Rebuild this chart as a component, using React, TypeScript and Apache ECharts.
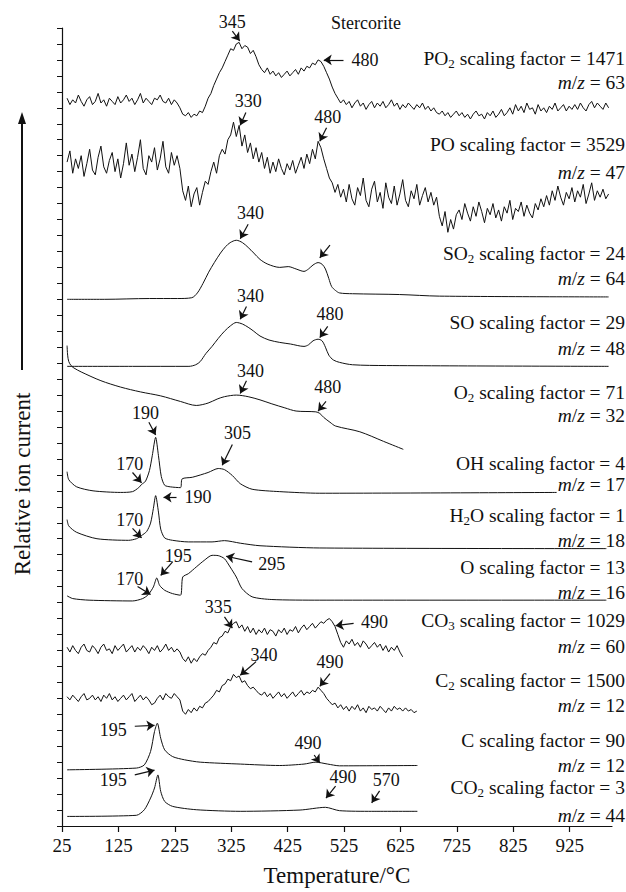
import React, { useEffect, useRef } from 'react';
import * as echarts from 'echarts';

const FONT = '"Liberation Serif", "Times New Roman", Times, serif';
const INK = '#111111';

// Temperature grid (°C) of the noisy traces
const T_NOISY = [
  34, 39, 44, 49, 54, 59, 64, 69, 74, 79,
  84, 89, 94, 99, 104, 109, 114, 119, 124, 129,
  134, 139, 144, 149, 154, 159, 164, 169, 174, 179,
  184, 189, 194, 199, 204, 209, 214, 219, 224, 229,
  234, 239, 244, 249, 254, 259, 264, 269, 274, 279,
  284, 289, 294, 299, 304, 309, 314, 319, 324, 329,
  334, 339, 344, 349, 354, 359, 364, 369, 374, 379,
  384, 389, 394, 399, 404, 409, 414, 419, 424, 429,
  434, 439, 444, 449, 454, 459, 464, 469, 474, 479,
  484, 489, 494, 499, 504, 509, 514, 519, 524, 529,
  534, 539, 544, 549, 554, 559, 564, 569, 574, 579,
  584, 589, 594, 599, 604, 609, 614, 619, 624, 629,
  634, 639, 644, 649, 654, 659, 664, 669, 674, 679,
  684, 689, 694, 699, 704, 709, 714, 719, 724, 729,
  734, 739, 744, 749, 754, 759, 764, 769, 774, 779,
  784, 789, 794, 799, 804, 809, 814, 819, 824, 829,
  834, 839, 844, 849, 854, 859, 864, 869, 874, 879,
  884, 889, 894, 899, 904, 909, 914, 919, 924, 929,
  934, 939, 944, 949, 954, 959, 964, 969, 974, 979,
  984, 989, 994,
];

// Relative ion current (stacked, arbitrary units)
const PO2_MZ63 = [
  45.6, 45.2, 45.5, 45.3, 45.8, 45.4, 45.1, 45.5, 45.7, 45.2,
  45.4, 45.9, 45.3, 45.5, 45.1, 45.6, 45.4, 45.2, 45.7, 45.3,
  45.5, 45.8, 45.4, 45.6, 45.2, 45.5, 45.9, 45.3, 45.6, 45.4,
  45.2, 45.6, 45.5, 45.8, 45.4, 45.3, 45.6, 45.2, 45.5, 45.3,
  45.0, 44.6, 44.5, 44.7, 44.4, 44.6, 44.5, 44.8, 44.7, 45.1,
  45.6, 45.9, 46.4, 46.8, 47.2, 47.5, 47.9, 48.3, 48.7, 48.6,
  49.0, 49.1, 48.7, 48.9, 48.8, 48.4, 48.6, 48.2, 47.7, 47.4,
  47.2, 47.5, 47.1, 47.3, 47.0, 47.2, 46.9, 47.1, 47.3, 47.0,
  47.2, 47.4, 47.1, 47.5, 47.3, 47.6, 47.5, 47.8, 47.7, 48.0,
  47.9, 47.6, 47.2, 46.8, 46.3, 45.9, 45.6, 45.3, 45.5, 45.2,
  45.4, 45.0, 45.3, 45.5, 45.1, 45.3, 44.9, 45.2, 45.4, 45.0,
  45.3, 45.1, 45.4, 45.0, 45.2, 45.5, 45.1, 45.3, 44.9, 45.2,
  45.0, 45.3, 45.1, 44.9, 45.2, 45.0, 45.3, 44.9, 45.1, 44.8,
  45.0, 44.7, 44.6, 44.8, 44.5, 44.7, 44.4, 44.6, 44.8, 44.5,
  44.7, 44.4, 44.6, 44.3, 44.6, 44.8, 44.5, 44.6, 44.3, 44.7,
  44.5, 44.8, 44.4, 44.6, 44.9, 44.5, 44.7, 45.0, 44.6, 45.2,
  44.8, 45.1, 44.7, 45.3, 44.9, 45.0, 44.6, 45.2, 44.8, 45.0,
  44.7, 45.1, 44.9, 45.3, 44.8, 45.0, 45.2, 44.8, 45.1, 44.9,
  45.2, 44.9, 45.3, 45.0, 44.8, 45.2, 45.4, 45.0, 45.3, 45.1,
  44.9, 45.3, 45.0,
];

const PO_MZ47 = [
  41.6, 42.3, 40.9, 41.8, 41.2, 42.0, 40.7, 41.5, 42.4, 41.1,
  40.8, 41.9, 42.6, 41.3, 40.9, 41.7, 42.2, 41.0, 41.8, 40.6,
  41.5, 42.8, 41.4, 42.1, 41.0, 41.9, 43.0, 41.2, 40.8, 42.0,
  41.6, 42.5, 41.1, 41.8, 42.9, 41.3, 40.9, 42.2, 41.4, 42.0,
  41.2, 39.8, 39.2, 40.1, 38.8, 39.6, 40.0, 38.9, 39.7, 40.4,
  40.2, 41.0, 41.6, 40.9, 42.0, 42.4, 42.1, 43.0, 43.3, 44.1,
  43.2, 43.9, 42.6, 43.3, 42.2, 42.8, 41.8, 42.5, 41.6, 42.2,
  41.2, 41.9, 40.9, 41.6, 41.0, 41.8, 41.2, 40.8, 41.5, 41.1,
  41.7, 40.9, 41.4, 41.9, 41.2, 42.1, 41.5, 42.4, 41.8, 42.9,
  42.5, 41.8, 41.2, 40.6, 40.3, 39.7, 40.2, 39.4, 39.9, 39.1,
  40.2, 39.3, 38.9, 40.0, 39.5, 40.6, 39.2, 38.8, 39.9, 40.4,
  39.1, 39.7, 38.7, 40.3, 39.4, 39.0, 40.1, 38.9, 39.6, 40.5,
  39.2, 38.8, 39.8, 39.3, 40.2, 38.9, 39.5, 40.0, 39.1, 39.7,
  38.9, 39.4, 38.2, 37.6, 38.5, 37.2, 38.0, 37.4, 38.3, 38.6,
  38.0, 39.0, 38.4, 37.9, 38.8, 38.2, 39.1, 38.5, 37.8, 38.7,
  38.3, 39.0, 38.1, 38.6, 37.9, 38.8, 38.4, 39.2, 38.0, 38.7,
  38.5, 39.1, 38.2, 38.9, 38.4, 38.1, 39.0, 38.6, 39.3, 38.8,
  39.5, 38.9, 39.8, 39.2, 40.1, 39.4, 38.9, 39.7, 39.3, 40.0,
  39.1, 39.8, 39.4, 40.2, 39.0, 39.6, 40.3, 39.2, 39.8, 39.4,
  39.9, 39.3, 39.6,
];

const CO3_MZ60 = [
  11.2, 10.9, 11.3, 11.0, 10.8, 11.2, 11.4, 11.0, 10.9, 11.3,
  11.1, 10.8, 11.2, 11.4, 11.0, 11.1, 10.8, 11.3, 11.0, 11.2,
  11.4, 10.9, 11.1, 11.3, 10.9, 11.2, 11.0, 11.3, 11.1, 10.8,
  11.2, 11.0, 11.3, 10.9, 11.1, 11.4, 11.0, 11.2, 10.9, 11.1,
  10.9, 10.5, 10.3, 10.6, 10.2, 10.5, 10.3, 10.6, 10.8, 10.7,
  11.0, 11.2, 11.5, 11.4, 11.8, 11.9, 12.2, 12.1, 12.5, 12.7,
  12.8, 12.4, 12.6, 12.2, 12.5, 12.1, 12.4, 12.0, 12.3, 12.1,
  12.4, 12.0, 12.3, 12.2, 11.9, 12.3, 12.1, 12.4, 12.0, 12.3,
  12.2, 12.5, 12.1, 12.4, 12.6, 12.3, 12.5, 12.7, 12.4, 12.6,
  12.8, 12.7, 12.9, 13.0, 12.8, 12.5, 12.0, 11.5, 11.2, 11.6,
  11.4, 11.7, 11.3, 11.5, 11.2, 11.6, 11.4, 11.1, 11.3, 11.5,
  11.2, 11.4, 11.0, 11.3, 10.9, 11.2, 11.0, 11.3, 10.9, 10.6,
];

const C2_MZ12 = [
  8.1, 7.9, 8.2, 8.0, 7.8, 8.1, 8.3, 7.9, 8.0, 8.2,
  7.9, 8.1, 7.8, 8.2, 8.0, 8.3, 7.9, 8.1, 7.8, 8.0,
  8.2, 7.9, 8.1, 8.3, 7.8, 8.0, 8.2, 7.9, 8.1, 7.9,
  7.6, 7.7, 8.0, 8.2, 7.9, 8.3, 8.1, 8.0, 8.3, 8.1,
  7.9, 7.2, 7.0, 7.3, 7.1, 7.4, 7.2, 7.5, 7.4, 7.7,
  7.8, 8.0, 8.2, 8.5, 8.4, 8.8, 8.9, 9.2, 9.1, 9.5,
  9.3, 9.4, 9.0, 9.1, 8.8, 8.6, 8.7, 8.5, 8.3, 8.2,
  8.4, 8.1, 8.3, 8.0, 8.2, 8.4, 8.1, 8.3, 8.0, 8.2,
  8.4, 8.1, 8.3, 8.5, 8.2, 8.4, 8.3, 8.5, 8.4, 8.7,
  8.5, 8.3, 8.0, 7.8, 7.6, 7.7, 7.4, 7.6, 7.3, 7.5,
  7.2, 7.5, 7.3, 7.6, 7.2, 7.4, 7.1, 7.5, 7.3, 7.4,
  7.2, 7.5, 7.3, 7.1, 7.4, 7.2, 7.5, 7.3, 7.4, 7.2,
  7.4, 7.2, 7.3, 7.1, 7.2,
];

// Smooth traces: [temperature °C, relative ion current]
const SO2_MZ64 = [
  [34, 33.0], [100, 33.0], [180, 33.05], [230, 33.05], [255, 33.1], [265, 33.4], [275, 34.0],
  [285, 34.7], [295, 35.3], [306, 35.9], [315, 36.3], [323, 36.55], [334, 36.7], [345, 36.55],
  [355, 36.25], [365, 35.9], [376, 35.5], [390, 35.2], [411, 35.0], [426, 35.05], [440, 34.9],
  [454, 34.75], [462, 34.9], [470, 35.15], [479, 35.3], [486, 35.2], [492, 34.9], [498, 34.3],
  [503, 33.8], [510, 33.55], [517, 33.4], [540, 33.35], [623, 33.3], [694, 33.2], [994, 33.15],
];

const SO_MZ48 = [
  [34, 28.8], [150, 28.8], [250, 28.8], [262, 28.9], [270, 29.1], [280, 29.6], [291, 30.05],
  [302, 30.55], [313, 31.0], [324, 31.35], [334, 31.55], [345, 31.45], [355, 31.25], [365, 31.0],
  [376, 30.7], [392, 30.45], [411, 30.3], [430, 30.2], [454, 30.05], [462, 30.15], [470, 30.4],
  [479, 30.5], [486, 30.4], [492, 30.0], [498, 29.5], [506, 29.2], [517, 29.05], [540, 28.9],
  [600, 28.85], [994, 28.8],
];

const O2_MZ32 = [
  [34, 30.1], [35, 29.5], [37, 29.1], [41, 28.85], [46, 28.7], [59, 28.45], [94, 27.9],
  [129, 27.5], [164, 27.2], [200, 26.95], [235, 26.6], [263, 26.35], [284, 26.5], [300, 26.75],
  [313, 26.9], [334, 27.0], [355, 26.9], [376, 26.7], [397, 26.45], [420, 26.2], [440, 26.0],
  [475, 25.95], [482, 25.85], [489, 25.6], [500, 25.3], [510, 25.06], [553, 24.7], [595, 24.1],
  [630, 23.6],
];

const OH_MZ17 = [
  [34, 22.2], [37, 21.7], [51, 21.25], [80, 21.0], [129, 20.9], [150, 20.95], [161, 21.2],
  [166, 21.4], [173, 21.6], [180, 22.27], [185, 23.2], [191, 24.35], [196, 23.2], [201, 21.9],
  [207, 21.35], [217, 21.25], [235, 21.2], [238, 21.75], [256, 21.85], [284, 22.15], [302, 22.4],
  [313, 22.33], [327, 21.96], [341, 21.45], [362, 21.1], [411, 20.95], [482, 20.85], [902, 20.9],
];

const H2O_MZ18 = [
  [34, 19.2], [37, 18.8], [51, 18.4], [87, 18.0], [143, 17.9], [157, 18.0], [166, 18.2],
  [175, 18.45], [182, 18.98], [187, 19.9], [191, 20.7], [196, 19.67], [200, 18.6], [207, 18.05],
  [221, 17.9], [249, 17.8], [291, 17.8], [313, 17.88], [341, 17.72], [376, 17.56],
  [482, 17.42], [990, 17.38],
];

const O_MZ16 = [
  [34, 14.42], [44, 14.25], [73, 14.15], [150, 14.1], [168, 14.25], [178, 14.5], [187, 14.98],
  [193, 15.54], [198, 15.08], [207, 14.77], [221, 14.56], [235, 14.46], [239, 15.6], [249, 15.81],
  [263, 16.23], [277, 16.64], [291, 16.96], [302, 16.94], [313, 16.75], [323, 16.23], [334, 15.6],
  [344, 14.88], [362, 14.36], [397, 14.19], [482, 14.15], [990, 14.15],
];

const C_MZ12 = [
  [34, 3.52], [157, 3.63], [171, 3.83], [182, 4.67], [189, 5.92], [194, 6.44], [200, 5.5],
  [207, 4.77], [221, 4.35], [242, 4.15], [270, 4.0], [341, 3.88], [411, 3.79], [454, 3.88],
  [475, 4.0], [496, 3.88], [517, 3.77], [655, 3.79],
];

const CO2_MZ44 = [
  [34, 0.6], [157, 0.67], [171, 1.02], [182, 1.75], [189, 2.38], [195, 3.2], [200, 2.17],
  [207, 1.54], [221, 1.23], [263, 1.02], [341, 0.92], [447, 1.0], [492, 1.17], [517, 0.96],
  [574, 0.92], [655, 0.92],
];

const SPECIES = ['PO2', 'PO', 'SO2', 'SO', 'O2', 'OH', 'H2O', 'O', 'CO3', 'C2', 'C', 'CO2'];
const SCALING = [1471, 3529, 24, 29, 71, 4, 1, 13, 1029, 1500, 90, 3];
const MZ = [63, 47, 64, 48, 32, 17, 18, 16, 60, 12, 12, 44];

const X_TICKS = [25, 125, 225, 325, 425, 525, 625, 725, 825, 925];

// Peak annotations: text, text position, arrow start, arrow end (data units)
const ANNOTATIONS = [
  { text: '345', at: [327, 50.4], from: [327, 49.8], to: [340, 49.2] },
  { text: '480', at: [562, 48.0], from: [524, 48.0], to: [489, 48.0] },
  { text: '330', at: [355, 45.4], from: [351, 44.7], to: [341, 43.9] },
  { text: '480', at: [496, 44.4], from: [494, 43.75], to: [482, 42.9] },
  { text: '340', at: [359, 38.4], from: [355, 37.7], to: [341, 36.8] },
  { text: '', at: [500, 36.4], from: [500, 36.4], to: [482, 35.6] },
  { text: '340', at: [359, 33.2], from: [352, 32.55], to: [341, 31.75] },
  { text: '480', at: [500, 32.1], from: [496, 31.3], to: [482, 30.6] },
  { text: '340', at: [359, 28.5], from: [352, 27.9], to: [341, 27.1] },
  { text: '480', at: [496, 27.5], from: [493, 26.6], to: [479, 26.0] },
  { text: '190', at: [173, 25.9], from: [179, 25.3], to: [191, 24.5] },
  { text: '170', at: [145, 22.7], from: [150, 22.15], to: [166, 21.5] },
  { text: '305', at: [336, 24.6], from: [327, 23.9], to: [309, 22.6] },
  { text: '190', at: [266, 20.6], from: [228, 20.6], to: [205, 20.6] },
  { text: '170', at: [145, 19.2], from: [150, 18.65], to: [166, 18.05] },
  { text: '195', at: [231, 16.9], from: [221, 16.55], to: [200, 15.7] },
  { text: '170', at: [145, 15.5], from: [159, 15.0], to: [182, 14.5] },
  { text: '295', at: [397, 16.4], from: [362, 16.55], to: [316, 16.9] },
  { text: '335', at: [302, 13.75], from: [313, 13.1], to: [327, 12.4] },
  { text: '490', at: [579, 12.8], from: [542, 12.7], to: [510, 12.55] },
  { text: '340', at: [383, 10.7], from: [369, 10.3], to: [341, 9.45] },
  { text: '490', at: [500, 10.3], from: [500, 9.55], to: [482, 8.75] },
  { text: '195', at: [116, 6.0], from: [154, 6.25], to: [189, 6.3] },
  { text: '490', at: [461, 5.2], from: [472, 4.45], to: [482, 3.95] },
  { text: '195', at: [116, 2.9], from: [154, 3.2], to: [189, 3.5] },
  { text: '490', at: [523, 3.1], from: [510, 2.5], to: [493, 1.75] },
  { text: '570', at: [600, 2.9], from: [588, 2.2], to: [574, 1.45] },
];

// Layout of the right-hand labels (pixel rows)
const LABEL_ROWS = [
  [58, 82], [144, 172], [253, 278], [322, 348], [392, 415], [463, 484],
  [515, 540], [567, 592], [620, 646], [680, 705], [740, 765], [787, 815],
];

function richSpecies(sp: string) {
  return sp
    .split(/(\d)/)
    .filter((p) => p.length > 0)
    .map((p) => (/\d/.test(p) ? `{s|${p}}` : `{n|${p}}`))
    .join('');
}

const LABEL_SIZE = 19.5;
const RICH = {
  n: { fontFamily: FONT, fontSize: LABEL_SIZE, lineHeight: 24, color: INK, fill: INK },
  s: { fontFamily: FONT, fontSize: 13, lineHeight: 24, verticalAlign: 'bottom', color: INK, fill: INK },
  i: { fontFamily: FONT, fontSize: LABEL_SIZE, fontStyle: 'italic', lineHeight: 24, color: INK, fill: INK },
};

function centeredText(text: string, x: number, y: number, size: number) {
  return {
    type: 'text',
    x,
    y,
    style: {
      text,
      font: `${size}px ${FONT}`,
      fontFamily: FONT,
      fontSize: size,
      align: 'center',
      textAlign: 'center',
      verticalAlign: 'middle',
      textVerticalAlign: 'middle',
      fill: INK,
    },
  };
}

export default function App() {
  const ref = useRef<HTMLDivElement>(null);

  useEffect(() => {
    if (!ref.current) return;
    const chart = echarts.init(ref.current, null, { renderer: 'svg' });

    const zip = (vals: number[]) => vals.map((v, i) => [T_NOISY[i], v]);

    const traces: { name: string; data: number[][]; smooth: number | boolean }[] = [
      { name: 'PO2', data: zip(PO2_MZ63), smooth: false },
      { name: 'PO', data: zip(PO_MZ47), smooth: false },
      { name: 'SO2', data: SO2_MZ64, smooth: 0.3 },
      { name: 'SO', data: SO_MZ48, smooth: 0.3 },
      { name: 'O2', data: O2_MZ32, smooth: 0.3 },
      { name: 'OH', data: OH_MZ17, smooth: 0.25 },
      { name: 'H2O', data: H2O_MZ18, smooth: 0.25 },
      { name: 'O', data: O_MZ16, smooth: 0.25 },
      { name: 'CO3', data: zip(CO3_MZ60), smooth: false },
      { name: 'C2', data: zip(C2_MZ12), smooth: false },
      { name: 'C', data: C_MZ12, smooth: 0.25 },
      { name: 'CO2', data: CO2_MZ44, smooth: 0.25 },
    ];

    const lineSeries = traces.map((t) => ({
      type: 'line',
      name: t.name,
      data: t.data,
      smooth: t.smooth,
      showSymbol: false,
      symbol: 'none',
      clip: false,
      lineStyle: { color: INK, width: 1 },
      silent: true,
    }));

    const staticGraphics: any[] = [];
    SPECIES.forEach((sp, i) => {
      const [y1, y2] = LABEL_ROWS[i];
      staticGraphics.push({
        type: 'text',
        x: 625,
        y: y1,
        style: {
          text: `${richSpecies(sp)}{n| scaling factor = ${SCALING[i]}}`,
          rich: RICH,
          align: 'right',
          textAlign: 'right',
          verticalAlign: 'middle',
          textVerticalAlign: 'middle',
          fill: INK,
        },
      });
      staticGraphics.push({
        type: 'text',
        x: 625,
        y: y2,
        style: {
          text: `{i|m}{n|/}{i|z}{n| = ${MZ[i]}}`,
          rich: RICH,
          align: 'right',
          textAlign: 'right',
          verticalAlign: 'middle',
          textVerticalAlign: 'middle',
          fill: INK,
        },
      });
    });
    staticGraphics.push(centeredText('Stercorite', 366, 23, 18));
    staticGraphics.push({
      type: 'line',
      shape: { x1: 22, y1: 370, x2: 22, y2: 122 },
      style: { stroke: INK, lineWidth: 2 },
    });
    staticGraphics.push({
      type: 'polygon',
      shape: { points: [[22, 112], [18, 124], [26, 124]] },
      style: { fill: INK },
    });
    staticGraphics.push({
      type: 'text',
      x: 22,
      y: 484,
      rotation: Math.PI / 2,
      style: {
        text: 'Relative ion current',
        font: `23px ${FONT}`,
        fontFamily: FONT,
        fontSize: 23,
        align: 'center',
        textAlign: 'center',
        verticalAlign: 'middle',
        textVerticalAlign: 'middle',
        fill: INK,
      },
    });

    const option: any = {
      animation: false,
      backgroundColor: '#ffffff',
      grid: { left: 62, right: 14, top: 28, bottom: 64, containLabel: false },
      xAxis: {
        type: 'value',
        min: 25,
        max: 1000,
        interval: 100,
        name: 'Temperature/°C',
        nameLocation: 'middle',
        nameGap: 38,
        nameTextStyle: { fontFamily: FONT, fontSize: 23, color: INK },
        axisLine: { show: true, lineStyle: { color: INK, width: 1.2 } },
        axisTick: { show: true, length: 6, customValues: X_TICKS, lineStyle: { color: INK, width: 1.2 } },
        axisLabel: {
          customValues: X_TICKS,
          fontFamily: FONT,
          fontSize: 19,
          color: INK,
          margin: 10,
        },
        splitLine: { show: false },
      },
      yAxis: {
        type: 'value',
        min: 0,
        max: 50,
        interval: 1,
        axisLine: { show: true, lineStyle: { color: INK, width: 1.2 } },
        axisTick: { show: true, length: 5, lineStyle: { color: INK, width: 1 } },
        axisLabel: { show: false },
        splitLine: { show: false },
      },
      series: [
        ...lineSeries,
        {
          type: 'lines',
          coordinateSystem: 'cartesian2d',
          symbol: ['none', 'arrow'],
          symbolSize: 8,
          clip: false,
          silent: true,
          lineStyle: { color: INK, width: 1.2, opacity: 1, curveness: 0 },
          data: ANNOTATIONS.map((a) => ({ coords: [a.from, a.to] })),
        },
      ],
      graphic: staticGraphics,
    };

    chart.setOption(option);

    // Annotation numbers placed through the chart's own axes
    const annotationGraphics = ANNOTATIONS.filter((a) => a.text).map((a) => {
      const p = chart.convertToPixel({ gridIndex: 0 }, a.at) as number[];
      return centeredText(a.text, p[0], p[1], 18);
    });
    chart.setOption({ graphic: [...staticGraphics, ...annotationGraphics] });

    return () => chart.dispose();
  }, []);

  return (
    <div
      ref={ref}
      style={{ position: 'fixed', left: 0, top: 0, width: 626, height: 892, background: '#fff' }}
    />
  );
}
